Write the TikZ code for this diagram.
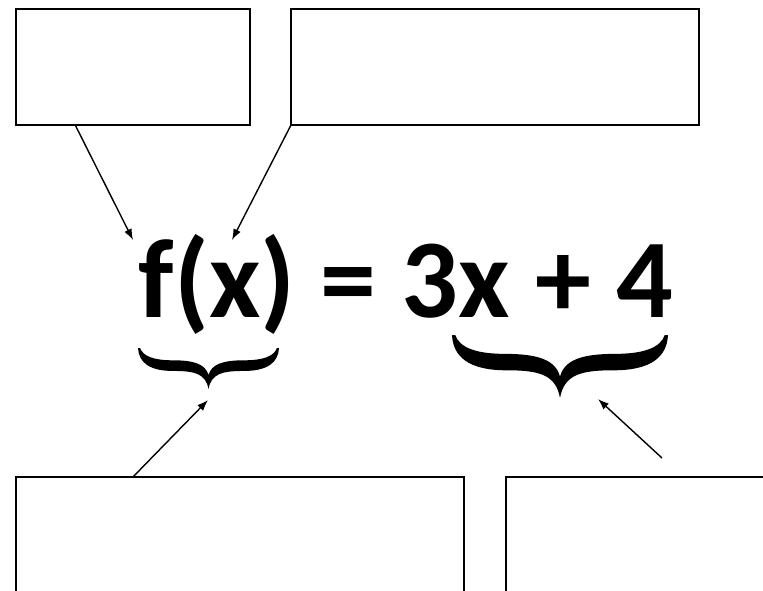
\documentclass[tikz,border=0pt]{standalone}
\usepackage{fontspec}
\setmainfont{Carlito}
\usetikzlibrary{arrows.meta,calc}
\newcommand\eqbracepath{%
  (0,0) .. controls (0.005,0.35) and (0.08,0.56) .. (0.25,0.56)
  .. controls (0.4,0.56) and (0.48,0.62) .. (0.5,1)
  .. controls (0.52,0.62) and (0.6,0.56) .. (0.75,0.56)
  .. controls (0.92,0.56) and (0.995,0.35) .. (1,0)
  -- (0.985,0)
  .. controls (0.965,0.2) and (0.89,0.3) .. (0.75,0.3)
  .. controls (0.6,0.3) and (0.52,0.4) .. (0.5,0.66)
  .. controls (0.48,0.4) and (0.4,0.3) .. (0.25,0.3)
  .. controls (0.11,0.3) and (0.035,0.2) .. (0.015,0) -- cycle}
\begin{document}
\begin{tikzpicture}[x=1pt,y=-1pt,
  box/.style={draw, line width=1.8pt, inner sep=0pt, outer sep=0pt, anchor=north west},
  conn/.style={-{Latex[length=11pt,width=8pt]}, line width=1.4pt},
  eqfont/.style={font=\bfseries\fontsize{112}{112}\selectfont, inner sep=0pt, anchor=base}]
\useasboundingbox (0,0) rectangle (763,590);
\clip (0,0) rectangle (763,590);
\fill[white] (0,0) rectangle (763,590);
% boxes
\node[box, minimum width=234pt, minimum height=116pt] (b1) at (16,9) {};
\node[box, minimum width=408pt, minimum height=116pt] (b2) at (291,9) {};
\node[box, minimum width=448pt, minimum height=150pt] (b3) at (16,477) {};
\node[box, minimum width=300pt, minimum height=150pt] (b4) at (506,477) {};
% equation
\node[eqfont] (eq) at (406,317) {f(x) = 3x + 4};
% braces
\begin{scope}[xshift=138pt, yshift=-348pt, x=141pt, y=-41pt]
  \fill \eqbracepath;
\end{scope}
\begin{scope}[xshift=452pt, yshift=-335pt, x=216pt, y=-63pt]
  \fill \eqbracepath;
\end{scope}
% arrow targets
\coordinate (tf) at (133,240);
\coordinate (tx) at (232,240);
\coordinate (tb1) at (208,400);
\coordinate (tb2) at (598,399);
\coordinate (s4) at (662,458);
% connectors
\draw[conn] ($(b1.south west)!0.253!(b1.south east)$) -- (tf);
\draw[conn] (b2.south west) -- (tx);
\draw[conn] ($(b3.north west)!0.261!(b3.north east)$) -- (tb1);
\draw[conn] (s4) -- (tb2);
\end{tikzpicture}
\end{document}
